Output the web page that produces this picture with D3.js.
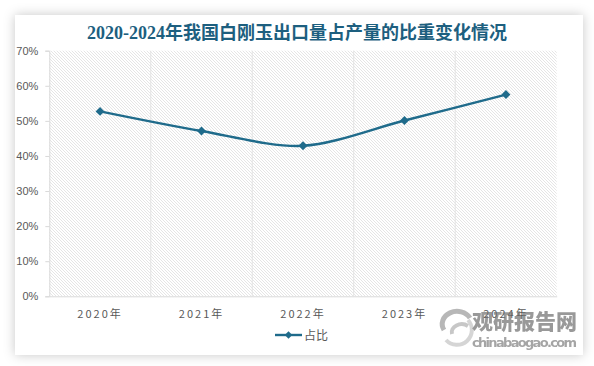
<!DOCTYPE html>
<html><head><meta charset="utf-8">
<script src="https://cdn.jsdelivr.net/npm/d3@7"></script>
<style>
html,body{margin:0;padding:0;background:#ffffff;}
svg{display:block;}
</style></head>
<body>
<svg id="chart" width="594" height="366"></svg>
<script>
const categories = ["2020年","2021年","2022年","2023年","2024年"];
const values = [52.7, 47.1, 42.9, 50.1, 57.5];
const seriesName = "占比";
const yTicks = [0,10,20,30,40,50,60,70];
const titleText = "2020-2024年我国白刚玉出口量占产量的比重变化情况";

const svg = d3.select("#chart");
const defs = svg.append("defs");
const f = defs.append("filter").attr("id","sh").attr("x","-10%").attr("y","-10%").attr("width","120%").attr("height","120%");
f.append("feDropShadow").attr("dx",0).attr("dy",0).attr("stdDeviation",6).attr("flood-color","#000").attr("flood-opacity",0.22);
const pat = defs.append("pattern").attr("id","hatch").attr("patternUnits","userSpaceOnUse").attr("width",3).attr("height",3);
pat.append("rect").attr("width",3).attr("height",3).attr("fill","#ffffff");
pat.append("path").attr("d","M-1,-1 L4,4 M-1,2 L1,4 M2,-1 L4,1").attr("stroke","#dadada").attr("stroke-width",0.7);

svg.append("rect").attr("x",15).attr("y",15).attr("width",568).attr("height",340).attr("fill","#fff").attr("filter","url(#sh)");

const m = {l:49.3, r:556.7, t:50.7, b:296.3};
const x = d3.scaleBand().domain(categories).range([m.l, m.r]).padding(0);
const y = d3.scaleLinear().domain([0,70]).range([m.b, m.t]);

svg.append("rect").attr("x",m.l).attr("y",m.t).attr("width",m.r-m.l).attr("height",m.b-m.t).attr("fill","url(#hatch)");

// vertical gridlines at category boundaries
svg.append("g").selectAll("line").data(categories.slice(1)).join("line")
  .attr("x1",d=>x(d)).attr("x2",d=>x(d)).attr("y1",m.t).attr("y2",m.b)
  .attr("stroke","#e3e3e3").attr("stroke-width",1);

// y axis
const ya = svg.append("g").attr("transform",`translate(${m.l},0)`)
  .call(d3.axisLeft(y).tickValues(yTicks).tickFormat(d=>d+"%").tickSize(4).tickPadding(7));
ya.select(".domain").attr("stroke","#d9d9d9");
ya.selectAll(".tick line").attr("stroke","#d9d9d9");
ya.selectAll("text").attr("fill","#595959").attr("font-size","11px").attr("font-family","Liberation Sans, Arial, sans-serif");

// x axis
const xa = svg.append("g").attr("transform",`translate(0,${m.b})`)
  .call(d3.axisBottom(x).tickSize(0).tickPadding(14));
xa.select(".domain").attr("stroke","#d9d9d9");
xa.selectAll("text").attr("fill","#595959").attr("font-size","11px").attr("letter-spacing","2px")
  .attr("font-family","Noto Sans CJK SC, sans-serif");

// line
const line = d3.line().x((d,i)=>x(categories[i])+x.bandwidth()/2).y(d=>y(d)).curve(d3.curveCardinal.tension(0.1));
svg.append("path").datum(values).attr("d",line).attr("fill","none").attr("stroke","#1f6b8b").attr("stroke-width",2.4);
const marker = d3.symbol().type(d3.symbolSquare).size(40);
svg.append("g").selectAll("path").data(values).join("path")
  .attr("transform",(d,i)=>`translate(${x(categories[i])+x.bandwidth()/2},${y(d)}) rotate(45)`)
  .attr("d",marker).attr("fill","#1f6b8b");

// title
svg.append("text").attr("x",297).attr("y",39).attr("text-anchor","middle")
  .attr("font-size","18px").attr("font-weight","bold").attr("fill","#1d5f7f")
  .attr("font-family","Liberation Serif, Noto Sans CJK SC, serif").text(titleText);

// legend
const lg = svg.append("g");
lg.append("line").attr("x1",275).attr("x2",302).attr("y1",335).attr("y2",335).attr("stroke","#1f6b8b").attr("stroke-width",2.4);
lg.append("path").attr("transform","translate(288.5,335) rotate(45)").attr("d",d3.symbol().type(d3.symbolSquare).size(28)).attr("fill","#1f6b8b");
lg.append("text").attr("x",304).attr("y",339.5).attr("font-size","12px").attr("fill","#595959")
  .attr("font-family","Noto Sans CJK SC, sans-serif").text(seriesName);

// watermark
const wm = svg.append("g").attr("opacity",0.7);
wm.append("path").attr("d","M444,330 A14,12 0 0 1 470,318").attr("fill","none").attr("stroke","#9a9a9a").attr("stroke-width",5);
wm.append("path").attr("d","M452,334 A10,8 0 0 1 468,326").attr("fill","none").attr("stroke","#b0b0b0").attr("stroke-width",4);
wm.append("path").attr("d","M468,320 A12,12 0 0 1 446,340").attr("fill","none").attr("stroke","#c4c4c4").attr("stroke-width",4);
wm.append("text").attr("x",472).attr("y",329).attr("font-size","21px").attr("font-weight","900").attr("fill","#6f6f6f")
  .attr("font-family","Noto Sans CJK SC, sans-serif").attr("textLength",105).text("观研报告网");
wm.append("text").attr("x",472).attr("y",347).attr("font-size","13px").attr("font-weight","bold").attr("fill","#7f7f7f")
  .attr("font-family","DejaVu Sans, sans-serif").attr("textLength",105).text("chinabaogao.com");
</script>
</body></html>
